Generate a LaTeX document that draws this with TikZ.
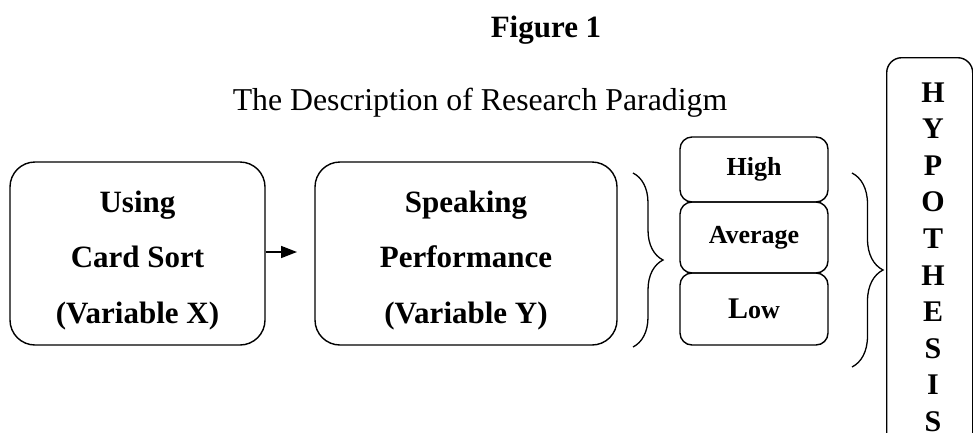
\documentclass[tikz,border=0pt]{standalone}
\usepackage{fontspec}
\setmainfont{Liberation Serif}
\usetikzlibrary{arrows.meta,decorations.pathreplacing}
\newcommand{\boxstrut}{\rule{0pt}{35pt}}
\tikzset{
  bigbox/.style={draw, line width=1.4pt, rounded corners=25pt, minimum width=255pt,
    minimum height=183pt, align=center, inner sep=0pt,
    font=\bfseries\fontsize{31}{55.5}\selectfont},
  smallbox/.style={draw, line width=1.4pt, rounded corners=12pt, minimum width=148pt,
    inner sep=0pt, font=\bfseries\fontsize{26}{30}\selectfont},
  hypbox/.style={draw, line width=1.4pt, rounded corners=15pt, minimum width=86pt,
    minimum height=420pt, inner sep=0pt},
  hypletter/.style={anchor=base, inner sep=0pt, font=\bfseries\fontsize{30}{36}\selectfont},
  bracket/.style={decorate, decoration={brace, amplitude=30pt}, line width=1.3pt},
  flow/.style={line width=1.6pt, -{Triangle[length=16pt,width=12pt]}}
}
\begin{document}
\begin{tikzpicture}[x=1pt, y=-1pt]
    \useasboundingbox (0, 0) rectangle (973, 432);
    \clip (0, 0) rectangle (973, 432);
    % caption
    \node[anchor=base, font=\bfseries\fontsize{31}{36}\selectfont] (figlabel) at (546, 37) {Figure 1};
    \node[anchor=base, font=\fontsize{31.8}{36}\selectfont] (figtitle) at (480, 110) {The Description of Research Paradigm};
    % variables
    \node[bigbox] (cardsort) at (137.5, 253.5) {\boxstrut Using\\Card Sort\\(Variable X)};
    \node[bigbox, minimum width=302pt] (speaking) at (466, 253.5) {\boxstrut Speaking\\Performance\\(Variable Y)};
    \coordinate (arrowtip) at (297, 252);
    \draw[flow] (cardsort.east |- arrowtip) -- (arrowtip);
    % levels
    \node[smallbox, minimum height=65pt] (high) at (754, 169.5) {High};
    \node[smallbox, minimum height=71pt] (average) at (754, 237.5) {Average};
    \node[smallbox, minimum height=72pt] (low) at (754, 309) {{\fontsize{30}{30}\selectfont L}ow};
    \coordinate (levelstop) at (633, 173);
    \coordinate (levelsbot) at (633, 347);
    \draw[bracket] (levelstop) -- (levelsbot);
    % hypothesis
    \coordinate (hyptop) at (852, 173);
    \coordinate (hypbot) at (852, 367);
    \draw[bracket, decoration={amplitude=31pt}] (hyptop) -- (hypbot);
    \node[hypbox, anchor=north west] (hypothesis) at (886, 57) {};
    \foreach \ch [count=\i] in {H,Y,P,O,T,H,E,S,I,S}
      \node[hypletter] (letter\i) at (933, {102 + 36.6*(\i-1)}) {\ch};
\end{tikzpicture}
\end{document}
